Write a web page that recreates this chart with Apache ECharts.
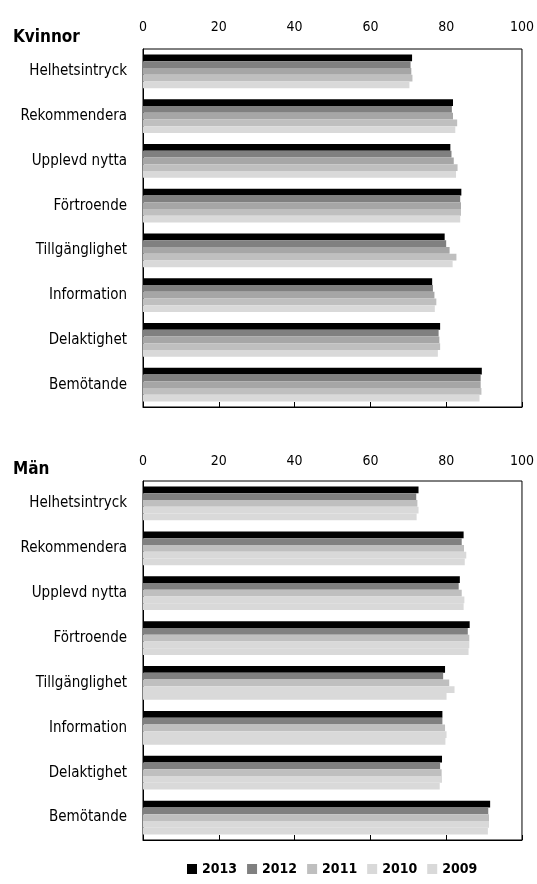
<!DOCTYPE html>
<html lang="sv">
  <head>
    <meta charset="UTF-8" />
    <title>Kvinnor / Män</title>
    <script src="https://cdn.jsdelivr.net/npm/echarts@6/dist/echarts.min.js"></script>
    <style>
      body { margin: 0; background: #fff; }
      #main { width: 537px; height: 884px; }
    </style>
  </head>
  <body>
    <div id="main"></div>
    <script>
      const chart = echarts.init(document.getElementById('main'))
      const font = '"Liberation Sans Narrow", "DejaVu Sans Condensed", sans-serif'

      const categories = ['Helhetsintryck', 'Rekommendera', 'Upplevd nytta', 'Förtroende',
        'Tillgänglighet', 'Information', 'Delaktighet', 'Bemötande']
      const years = ['2013', '2012', '2011', '2010', '2009']
      const xTicks = [0, 20, 40, 60, 80, 100]

      // Kvinnor, one array per year
      const kv2013 = [71.0, 81.8, 81.1, 84.0, 79.6, 76.3, 78.4, 89.4]
      const kv2012 = [70.6, 81.5, 81.4, 83.7, 80.0, 76.5, 78.0, 89.1]
      const kv2011 = [70.8, 81.8, 82.0, 83.9, 80.9, 76.9, 78.2, 89.1]
      const kv2010 = [71.1, 82.9, 83.0, 83.9, 82.7, 77.4, 78.4, 89.3]
      const kv2009 = [70.3, 82.4, 82.6, 83.7, 81.7, 77.0, 77.8, 88.8]

      // Män
      const man2013 = [72.7, 84.6, 83.6, 86.2, 79.7, 79.0, 78.9, 91.6]
      const man2012 = [72.1, 84.1, 83.3, 85.7, 79.2, 79.0, 78.4, 91.1]
      const man2011 = [72.4, 84.7, 84.1, 86.1, 80.8, 79.7, 78.8, 91.3]
      const man2010 = [72.7, 85.3, 84.8, 86.1, 82.2, 80.1, 78.9, 91.3]
      const man2009 = [72.2, 84.9, 84.6, 85.9, 80.1, 79.8, 78.3, 91.0]

      const kvColors = ['#000000', '#808080', '#a6a6a6', '#bfbfbf', '#d9d9d9']
      const manColors = ['#000000', '#808080', '#bfbfbf', '#d9d9d9', '#d9d9d9']

      const grids = [
        { left: 143, right: 14, top: 49, height: 358, show: true, borderColor: '#000', borderWidth: 1 },
        { left: 143, right: 14, top: 481, height: 359, show: true, borderColor: '#000', borderWidth: 1 }
      ]

      function xAxes(gi, labelMargin) {
        return [
          {
            type: 'value', gridIndex: gi, position: 'top', min: 0, max: 100, interval: 20,
            axisLine: { show: false }, axisTick: { show: false }, splitLine: { show: false },
            axisLabel: {
              margin: labelMargin, fontFamily: font, fontSize: 14, color: '#000',
              formatter: (v) => (xTicks.includes(v) ? String(v) : '')
            }
          },
          {
            type: 'value', gridIndex: gi, position: 'bottom', min: 0, max: 100, interval: 20,
            axisLine: { show: true, lineStyle: { color: '#000' } },
            axisTick: { show: true, inside: true, length: 5, lineStyle: { color: '#000' } },
            axisLabel: { show: false }, splitLine: { show: false }
          }
        ]
      }

      function yAxis(gi) {
        return {
          type: 'category', gridIndex: gi, data: categories, inverse: true,
          axisLine: { lineStyle: { color: '#000' } },
          axisTick: { length: 7, lineStyle: { color: '#000' } },
          axisLabel: { margin: 16, fontFamily: font, fontSize: 15, color: '#000' }
        }
      }

      function barSeries(gi, rows, colors) {
        return rows.map((data, i) => ({
          name: years[i], type: 'bar', xAxisIndex: gi * 2, yAxisIndex: gi,
          data: data, barGap: '0%', barCategoryGap: '25%',
          itemStyle: { color: colors[i] }, silent: true
        }))
      }

      chart.setOption({
        animation: false,
        textStyle: { fontFamily: font },
        title: [
          { text: 'Kvinnor', left: 8, top: 24, textStyle: { fontFamily: font, fontSize: 17, fontWeight: 'bold', color: '#000' } },
          { text: 'Män', left: 8, top: 456, textStyle: { fontFamily: font, fontSize: 17, fontWeight: 'bold', color: '#000' } }
        ],
        grid: grids,
        xAxis: [...xAxes(0, 15), ...xAxes(1, 13)],
        yAxis: [yAxis(0), yAxis(1)],
        legend: {
          bottom: 3, left: 182, itemWidth: 10, itemHeight: 10, itemGap: 10,
          icon: 'rect',
          textStyle: { fontFamily: font, fontSize: 14, fontWeight: 'bold', color: '#000' },
          data: years.map((y, i) => ({ name: y, itemStyle: { color: manColors[i] } }))
        },
        series: [
          ...barSeries(0, [kv2013, kv2012, kv2011, kv2010, kv2009], kvColors),
          ...barSeries(1, [man2013, man2012, man2011, man2010, man2009], manColors)
        ]
      })
    </script>
  </body>
</html>
